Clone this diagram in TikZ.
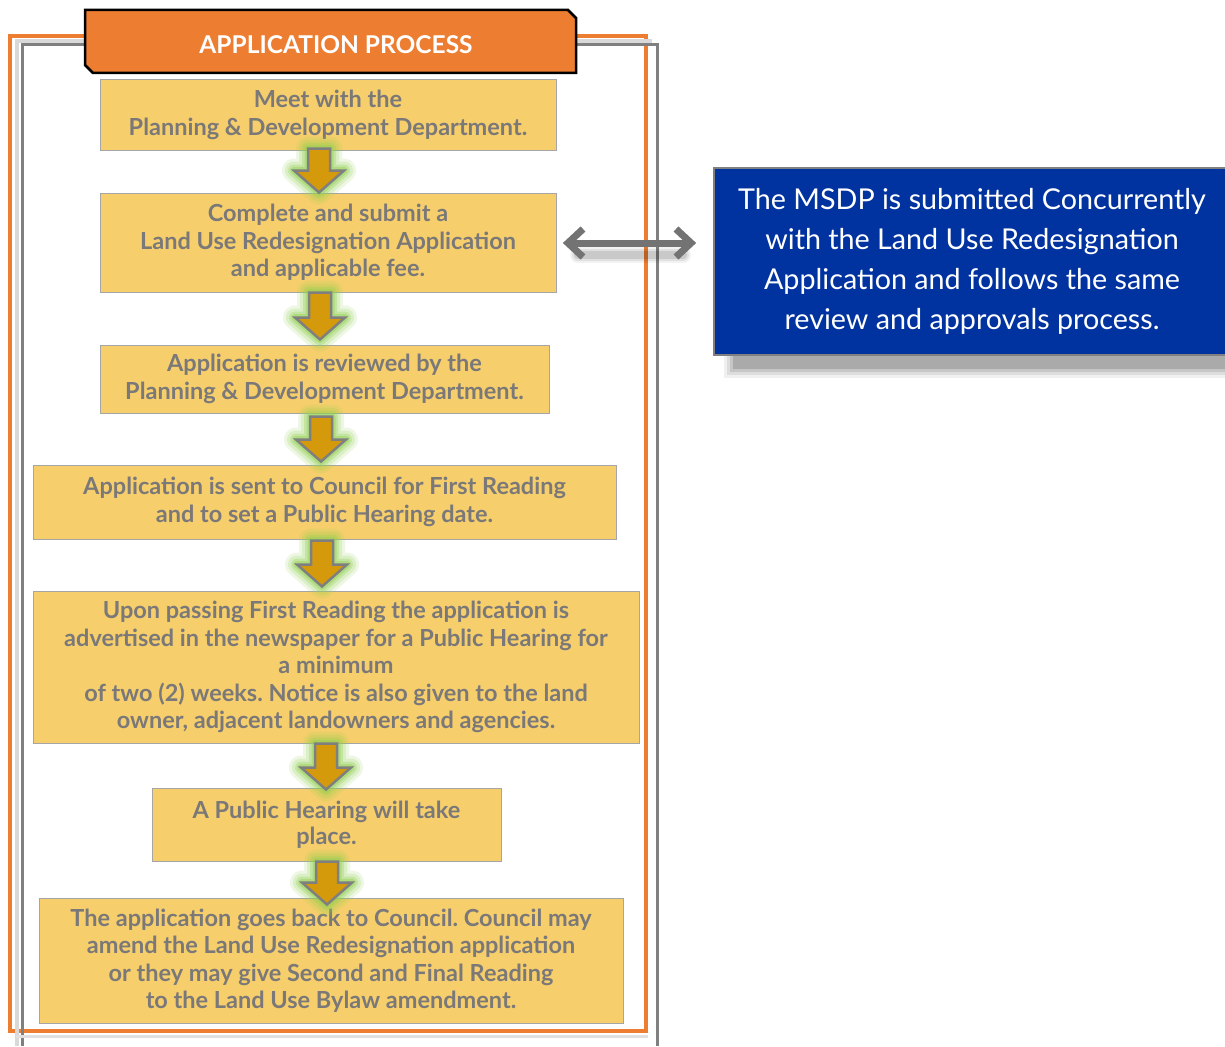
\documentclass[tikz,border=0pt]{standalone}
\usepackage{fontspec}
\setmainfont{Lato}
\frenchspacing
\usetikzlibrary{arrows.meta,calc}
\definecolor{orangeA}{HTML}{ED7D31}
\definecolor{boxfill}{HTML}{F6CE6B}
\definecolor{boxline}{HTML}{A5A5A5}
\definecolor{txtgray}{HTML}{7A7878}
\definecolor{arrowfill}{HTML}{D49A0C}
\definecolor{arrowline}{HTML}{7F7F7F}
\definecolor{glow}{HTML}{92D050}
\definecolor{msdpblue}{HTML}{0033A0}
\definecolor{framegray}{HTML}{808080}
\definecolor{dblarrow}{HTML}{737373}
\tikzset{
  stepbox/.style={draw=boxline, line width=1pt, fill=boxfill, align=center,
    font=\fontsize{23.5}{27.5}\selectfont\bfseries, text=txtgray, inner sep=0pt},
  glowline/.style={draw=glow, line join=round},
  blockarrow/.style={fill=arrowfill, draw=arrowline, line width=2.5pt, line join=miter},
  chev/.style={draw=dblarrow, line width=7pt, line join=miter},
}
% #1 x centre, #2 upper node, #3 lower node, #4 top offset (up), #5 tip offset (down)
\newcommand\dnarrow[5]{%
  \foreach \w/\o in {24/0.15, 18/0.2, 12/0.3, 7/0.45}{%
    \path let \p1=(#2.south), \p2=(#3.north) in [glowline, line width=\w pt, opacity=\o]
      (#1pt-11pt,\y1+#4pt) -- (#1pt+11pt,\y1+#4pt) -- (#1pt+11pt,\y2-#5pt+22pt) -- (#1pt+25pt,\y2-#5pt+22pt)
      -- (#1pt,\y2-#5pt) -- (#1pt-25pt,\y2-#5pt+22pt) -- (#1pt-11pt,\y2-#5pt+22pt) -- cycle;}
  \path let \p1=(#2.south), \p2=(#3.north) in [blockarrow]
      (#1pt-11pt,\y1+#4pt) -- (#1pt+11pt,\y1+#4pt) -- (#1pt+11pt,\y2-#5pt+22pt) -- (#1pt+25pt,\y2-#5pt+22pt)
      -- (#1pt,\y2-#5pt) -- (#1pt-25pt,\y2-#5pt+22pt) -- (#1pt-11pt,\y2-#5pt+22pt) -- cycle;
}
\begin{document}
\begin{tikzpicture}[x=1pt,y=-1pt]
\useasboundingbox (0,0) rectangle (1225,1046);
\fill[white] (0,0) rectangle (1225,1046);

% outer frames
\draw[orangeA, line width=4pt] (10,36) rectangle (646,1031);
\draw[black!15, line width=4pt] (17,1046) -- (17,41) -- (652,41);
\draw[framegray, line width=3pt] (22,1046) -- (22,45) -- (657,45) -- (657,1046);
\draw[black!12, line width=3pt] (16,1036) -- (648,1036);

% title tab
\draw[fill=orangeA, draw=black, line width=2.5pt]
  (85,10) -- (568,10) -- (576,18) -- (576,73) -- (93,73) -- (85,65) -- cycle;
\node[text=white, font=\fontsize{24.5}{26}\selectfont\bfseries] (title) at (336,45) {APPLICATION PROCESS};

% steps
\node[stepbox, minimum width=456, minimum height=70] (s1) at (328,115)
  {Meet with the\\Planning \& Development Department.};
\node[stepbox, minimum width=456, minimum height=99] (s2) at (328,242.5)
  {Complete and submit a\\Land Use Redesignation Application\\and applicable fee.};
\node[stepbox, minimum width=449, minimum height=68] (s3) at (324.5,379)
  {Application is reviewed by the\\Planning \& Development Department.};
\node[stepbox, minimum width=583, minimum height=74] (s4) at (324.5,502)
  {Application is sent to Council for First Reading\\and to set a Public Hearing date.};
\node[stepbox, minimum width=606, minimum height=152] (s5) at (336,667)
  {Upon passing First Reading the application is\\advertised in the newspaper for a Public Hearing for\\a minimum\\of two (2) weeks. Notice is also given to the land\\owner, adjacent landowners and agencies.};
\node[stepbox, minimum width=349, minimum height=73, font=\fontsize{23.5}{26}\selectfont\bfseries] (s6) at (326.5,824.5)
  {A Public Hearing will take\\place.};
\node[stepbox, minimum width=584, minimum height=125] (s7) at (331,960.5)
  {The application goes back to Council. Council may\\amend the Land Use Redesignation application\\or they may give Second and Final Reading\\to the Land Use Bylaw amendment.};

% block arrows
\dnarrow{319}{s1}{s2}{2}{0}
\dnarrow{320}{s2}{s3}{0}{-5}
\dnarrow{321}{s3}{s4}{-3}{-3}
\dnarrow{322}{s4}{s5}{-1}{-4}
\dnarrow{326}{s5}{s6}{0}{2}
\dnarrow{327}{s6}{s7}{0}{7}

% MSDP box with shadow
\foreach \d/\o in {14/0.06, 11/0.08, 8/0.1, 5/0.14}{
  \fill[black, opacity=\o] (738-\d,190-\d) rectangle (1245,364+\d);}
\node[draw=framegray, line width=2pt, fill=msdpblue, minimum width=516, minimum height=187,
  text=white, align=center, font=\fontsize{28.7}{40}\selectfont, inner sep=0pt] (msdp) at (972,261.5)
  {The MSDP is submitted Concurrently\\with the Land Use Redesignation\\Application and follows the same\\review and approvals process.};

% double arrow
\coordinate (dl) at (568,243);
\coordinate (dr) at (691,243);
\foreach \w/\o in {16/0.05, 12/0.07, 8/0.1}{
  \draw[black, opacity=\o, line width=\w pt, line cap=round] ([shift={(10,12)}]dl) -- ([shift={(-8,12)}]dr);}
\draw[chev, line cap=butt] ([xshift=3]dl) -- ([xshift=-3]dr);
\draw[chev] ([shift={(15,-14)}]dl) -- (dl) -- ([shift={(15,14)}]dl);
\draw[chev] ([shift={(-15,-14)}]dr) -- (dr) -- ([shift={(-15,14)}]dr);
\end{tikzpicture}
\end{document}
